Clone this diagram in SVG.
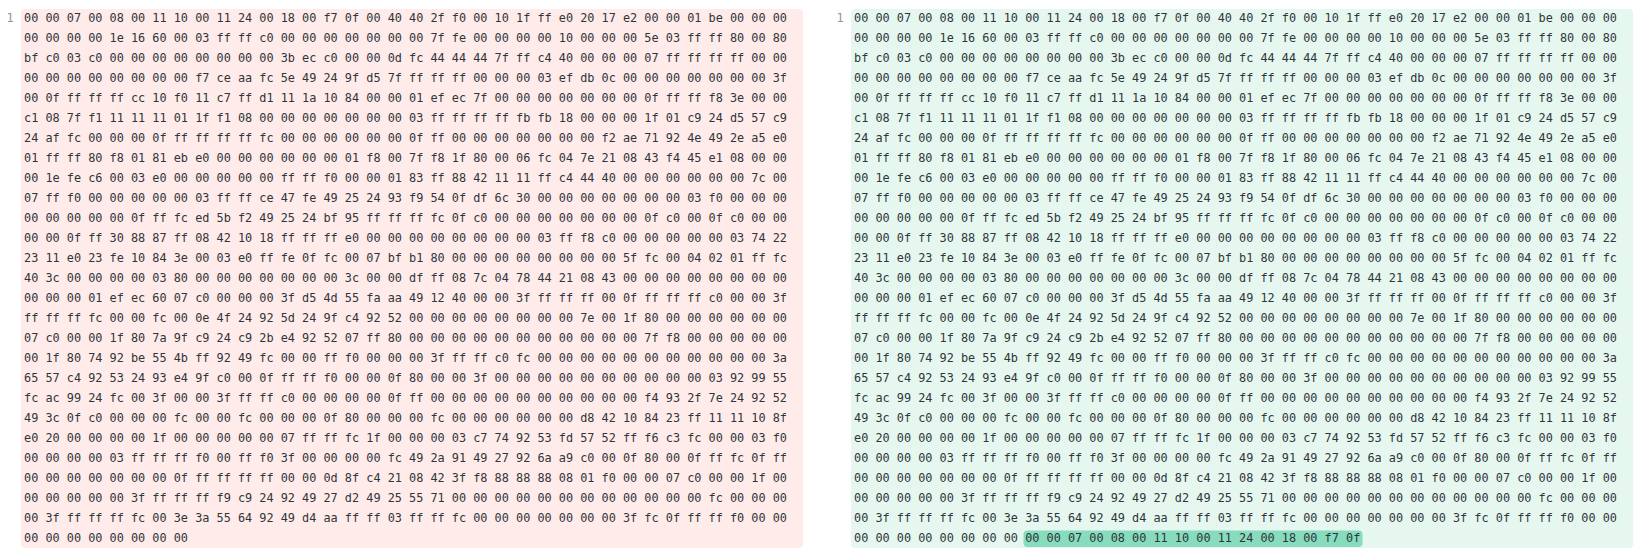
<svg xmlns="http://www.w3.org/2000/svg" width="1644" height="560" viewBox="0 0 1644 560">
<style>
.bg{stroke:none}
.del{fill:#ffebe9}
.add{fill:#e6f7ef}
.hl{fill:#86dcbd}
.code{font-family:"DejaVu Sans Mono","Liberation Mono",monospace;font-size:11.85px;fill:#2f353b}
.ln{font-family:"DejaVu Sans Mono","Liberation Mono",monospace;font-size:11.85px;fill:#8c959f;text-anchor:middle}
</style>
<rect x="0" y="0" width="1644" height="560" fill="#ffffff"/>
<g id="left-panel">
<rect class="bg del" x="21" y="9" width="782" height="539" rx="4"/>
<text class="ln" x="10" y="22.3">1</text>
<text class="code">
<tspan x="24" y="22.3">00 00 07 00 08 00 11 10 00 11 24 00 18 00 f7 0f 00 40 40 2f f0 00 10 1f ff e0 20 17 e2 00 00 01 be 00 00 00</tspan>
<tspan x="24" y="42.3">00 00 00 00 1e 16 60 00 03 ff ff c0 00 00 00 00 00 00 00 7f fe 00 00 00 00 10 00 00 00 5e 03 ff ff 80 00 80</tspan>
<tspan x="24" y="62.3">bf c0 03 c0 00 00 00 00 00 00 00 00 3b ec c0 00 00 0d fc 44 44 44 7f ff c4 40 00 00 00 07 ff ff ff ff 00 00</tspan>
<tspan x="24" y="82.3">00 00 00 00 00 00 00 00 f7 ce aa fc 5e 49 24 9f d5 7f ff ff ff 00 00 00 03 ef db 0c 00 00 00 00 00 00 00 3f</tspan>
<tspan x="24" y="102.3">00 0f ff ff ff cc 10 f0 11 c7 ff d1 11 1a 10 84 00 00 01 ef ec 7f 00 00 00 00 00 00 00 0f ff ff f8 3e 00 00</tspan>
<tspan x="24" y="122.3">c1 08 7f f1 11 11 11 01 1f f1 08 00 00 00 00 00 00 00 03 ff ff ff ff fb fb 18 00 00 00 1f 01 c9 24 d5 57 c9</tspan>
<tspan x="24" y="142.3">24 af fc 00 00 00 0f ff ff ff ff fc 00 00 00 00 00 00 0f ff 00 00 00 00 00 00 00 f2 ae 71 92 4e 49 2e a5 e0</tspan>
<tspan x="24" y="162.3">01 ff ff 80 f8 01 81 eb e0 00 00 00 00 00 00 01 f8 00 7f f8 1f 80 00 06 fc 04 7e 21 08 43 f4 45 e1 08 00 00</tspan>
<tspan x="24" y="182.3">00 1e fe c6 00 03 e0 00 00 00 00 00 ff ff f0 00 00 01 83 ff 88 42 11 11 ff c4 44 40 00 00 00 00 00 00 7c 00</tspan>
<tspan x="24" y="202.3">07 ff f0 00 00 00 00 00 03 ff ff ce 47 fe 49 25 24 93 f9 54 0f df 6c 30 00 00 00 00 00 00 00 03 f0 00 00 00</tspan>
<tspan x="24" y="222.3">00 00 00 00 00 0f ff fc ed 5b f2 49 25 24 bf 95 ff ff ff fc 0f c0 00 00 00 00 00 00 00 0f c0 00 0f c0 00 00</tspan>
<tspan x="24" y="242.3">00 00 0f ff 30 88 87 ff 08 42 10 18 ff ff ff e0 00 00 00 00 00 00 00 00 03 ff f8 c0 00 00 00 00 00 03 74 22</tspan>
<tspan x="24" y="262.3">23 11 e0 23 fe 10 84 3e 00 03 e0 ff fe 0f fc 00 07 bf b1 80 00 00 00 00 00 00 00 00 5f fc 00 04 02 01 ff fc</tspan>
<tspan x="24" y="282.3">40 3c 00 00 00 00 03 80 00 00 00 00 00 00 00 3c 00 00 df ff 08 7c 04 78 44 21 08 43 00 00 00 00 00 00 00 00</tspan>
<tspan x="24" y="302.3">00 00 00 01 ef ec 60 07 c0 00 00 00 3f d5 4d 55 fa aa 49 12 40 00 00 3f ff ff ff 00 0f ff ff ff c0 00 00 3f</tspan>
<tspan x="24" y="322.3">ff ff ff fc 00 00 fc 00 0e 4f 24 92 5d 24 9f c4 92 52 00 00 00 00 00 00 00 00 7e 00 1f 80 00 00 00 00 00 00</tspan>
<tspan x="24" y="342.3">07 c0 00 00 1f 80 7a 9f c9 24 c9 2b e4 92 52 07 ff 80 00 00 00 00 00 00 00 00 00 00 00 7f f8 00 00 00 00 00</tspan>
<tspan x="24" y="362.3">00 1f 80 74 92 be 55 4b ff 92 49 fc 00 00 ff f0 00 00 00 3f ff ff c0 fc 00 00 00 00 00 00 00 00 00 00 00 3a</tspan>
<tspan x="24" y="382.3">65 57 c4 92 53 24 93 e4 9f c0 00 0f ff ff f0 00 00 0f 80 00 00 3f 00 00 00 00 00 00 00 00 00 00 03 92 99 55</tspan>
<tspan x="24" y="402.3">fc ac 99 24 fc 00 3f 00 00 3f ff ff c0 00 00 00 00 0f ff 00 00 00 00 00 00 00 00 00 00 f4 93 2f 7e 24 92 52</tspan>
<tspan x="24" y="422.3">49 3c 0f c0 00 00 00 fc 00 00 fc 00 00 00 0f 80 00 00 00 fc 00 00 00 00 00 00 d8 42 10 84 23 ff 11 11 10 8f</tspan>
<tspan x="24" y="442.3">e0 20 00 00 00 00 1f 00 00 00 00 00 07 ff ff fc 1f 00 00 00 03 c7 74 92 53 fd 57 52 ff f6 c3 fc 00 00 03 f0</tspan>
<tspan x="24" y="462.3">00 00 00 00 03 ff ff ff f0 00 ff f0 3f 00 00 00 00 fc 49 2a 91 49 27 92 6a a9 c0 00 0f 80 00 0f ff fc 0f ff</tspan>
<tspan x="24" y="482.3">00 00 00 00 00 00 00 0f ff ff ff ff 00 00 0d 8f c4 21 08 42 3f f8 88 88 88 08 01 f0 00 00 07 c0 00 00 1f 00</tspan>
<tspan x="24" y="502.3">00 00 00 00 00 3f ff ff ff f9 c9 24 92 49 27 d2 49 25 55 71 00 00 00 00 00 00 00 00 00 00 00 00 fc 00 00 00</tspan>
<tspan x="24" y="522.3">00 3f ff ff ff fc 00 3e 3a 55 64 92 49 d4 aa ff ff 03 ff ff fc 00 00 00 00 00 00 00 3f fc 0f ff ff f0 00 00</tspan>
<tspan x="24" y="542.3">00 00 00 00 00 00 00 00</tspan>
</text>
</g>
<g id="right-panel">
<rect class="bg add" x="851" y="9" width="782" height="539" rx="4"/>
<rect class="hl" x="1023.5" y="530.5" width="339" height="16.5" rx="4"/>
<text class="ln" x="840" y="22.3">1</text>
<text class="code">
<tspan x="854" y="22.3">00 00 07 00 08 00 11 10 00 11 24 00 18 00 f7 0f 00 40 40 2f f0 00 10 1f ff e0 20 17 e2 00 00 01 be 00 00 00</tspan>
<tspan x="854" y="42.3">00 00 00 00 1e 16 60 00 03 ff ff c0 00 00 00 00 00 00 00 7f fe 00 00 00 00 10 00 00 00 5e 03 ff ff 80 00 80</tspan>
<tspan x="854" y="62.3">bf c0 03 c0 00 00 00 00 00 00 00 00 3b ec c0 00 00 0d fc 44 44 44 7f ff c4 40 00 00 00 07 ff ff ff ff 00 00</tspan>
<tspan x="854" y="82.3">00 00 00 00 00 00 00 00 f7 ce aa fc 5e 49 24 9f d5 7f ff ff ff 00 00 00 03 ef db 0c 00 00 00 00 00 00 00 3f</tspan>
<tspan x="854" y="102.3">00 0f ff ff ff cc 10 f0 11 c7 ff d1 11 1a 10 84 00 00 01 ef ec 7f 00 00 00 00 00 00 00 0f ff ff f8 3e 00 00</tspan>
<tspan x="854" y="122.3">c1 08 7f f1 11 11 11 01 1f f1 08 00 00 00 00 00 00 00 03 ff ff ff ff fb fb 18 00 00 00 1f 01 c9 24 d5 57 c9</tspan>
<tspan x="854" y="142.3">24 af fc 00 00 00 0f ff ff ff ff fc 00 00 00 00 00 00 0f ff 00 00 00 00 00 00 00 f2 ae 71 92 4e 49 2e a5 e0</tspan>
<tspan x="854" y="162.3">01 ff ff 80 f8 01 81 eb e0 00 00 00 00 00 00 01 f8 00 7f f8 1f 80 00 06 fc 04 7e 21 08 43 f4 45 e1 08 00 00</tspan>
<tspan x="854" y="182.3">00 1e fe c6 00 03 e0 00 00 00 00 00 ff ff f0 00 00 01 83 ff 88 42 11 11 ff c4 44 40 00 00 00 00 00 00 7c 00</tspan>
<tspan x="854" y="202.3">07 ff f0 00 00 00 00 00 03 ff ff ce 47 fe 49 25 24 93 f9 54 0f df 6c 30 00 00 00 00 00 00 00 03 f0 00 00 00</tspan>
<tspan x="854" y="222.3">00 00 00 00 00 0f ff fc ed 5b f2 49 25 24 bf 95 ff ff ff fc 0f c0 00 00 00 00 00 00 00 0f c0 00 0f c0 00 00</tspan>
<tspan x="854" y="242.3">00 00 0f ff 30 88 87 ff 08 42 10 18 ff ff ff e0 00 00 00 00 00 00 00 00 03 ff f8 c0 00 00 00 00 00 03 74 22</tspan>
<tspan x="854" y="262.3">23 11 e0 23 fe 10 84 3e 00 03 e0 ff fe 0f fc 00 07 bf b1 80 00 00 00 00 00 00 00 00 5f fc 00 04 02 01 ff fc</tspan>
<tspan x="854" y="282.3">40 3c 00 00 00 00 03 80 00 00 00 00 00 00 00 3c 00 00 df ff 08 7c 04 78 44 21 08 43 00 00 00 00 00 00 00 00</tspan>
<tspan x="854" y="302.3">00 00 00 01 ef ec 60 07 c0 00 00 00 3f d5 4d 55 fa aa 49 12 40 00 00 3f ff ff ff 00 0f ff ff ff c0 00 00 3f</tspan>
<tspan x="854" y="322.3">ff ff ff fc 00 00 fc 00 0e 4f 24 92 5d 24 9f c4 92 52 00 00 00 00 00 00 00 00 7e 00 1f 80 00 00 00 00 00 00</tspan>
<tspan x="854" y="342.3">07 c0 00 00 1f 80 7a 9f c9 24 c9 2b e4 92 52 07 ff 80 00 00 00 00 00 00 00 00 00 00 00 7f f8 00 00 00 00 00</tspan>
<tspan x="854" y="362.3">00 1f 80 74 92 be 55 4b ff 92 49 fc 00 00 ff f0 00 00 00 3f ff ff c0 fc 00 00 00 00 00 00 00 00 00 00 00 3a</tspan>
<tspan x="854" y="382.3">65 57 c4 92 53 24 93 e4 9f c0 00 0f ff ff f0 00 00 0f 80 00 00 3f 00 00 00 00 00 00 00 00 00 00 03 92 99 55</tspan>
<tspan x="854" y="402.3">fc ac 99 24 fc 00 3f 00 00 3f ff ff c0 00 00 00 00 0f ff 00 00 00 00 00 00 00 00 00 00 f4 93 2f 7e 24 92 52</tspan>
<tspan x="854" y="422.3">49 3c 0f c0 00 00 00 fc 00 00 fc 00 00 00 0f 80 00 00 00 fc 00 00 00 00 00 00 d8 42 10 84 23 ff 11 11 10 8f</tspan>
<tspan x="854" y="442.3">e0 20 00 00 00 00 1f 00 00 00 00 00 07 ff ff fc 1f 00 00 00 03 c7 74 92 53 fd 57 52 ff f6 c3 fc 00 00 03 f0</tspan>
<tspan x="854" y="462.3">00 00 00 00 03 ff ff ff f0 00 ff f0 3f 00 00 00 00 fc 49 2a 91 49 27 92 6a a9 c0 00 0f 80 00 0f ff fc 0f ff</tspan>
<tspan x="854" y="482.3">00 00 00 00 00 00 00 0f ff ff ff ff 00 00 0d 8f c4 21 08 42 3f f8 88 88 88 08 01 f0 00 00 07 c0 00 00 1f 00</tspan>
<tspan x="854" y="502.3">00 00 00 00 00 3f ff ff ff f9 c9 24 92 49 27 d2 49 25 55 71 00 00 00 00 00 00 00 00 00 00 00 00 fc 00 00 00</tspan>
<tspan x="854" y="522.3">00 3f ff ff ff fc 00 3e 3a 55 64 92 49 d4 aa ff ff 03 ff ff fc 00 00 00 00 00 00 00 3f fc 0f ff ff f0 00 00</tspan>
<tspan x="854" y="542.3">00 00 00 00 00 00 00 00 00 00 07 00 08 00 11 10 00 11 24 00 18 00 f7 0f</tspan>
</text>
</g>
<g id="connectors"/>
</svg>
